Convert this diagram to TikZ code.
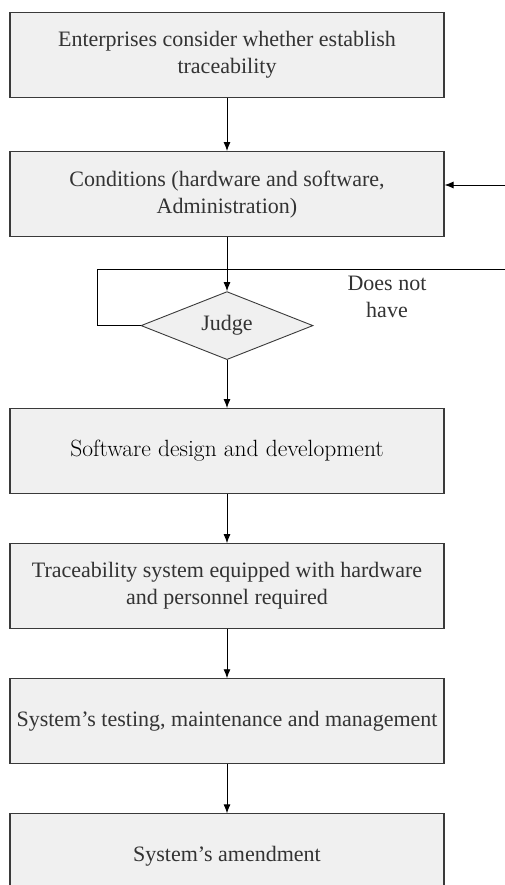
\documentclass[tikz,border=0pt]{standalone}
\usepackage{fontspec}
\setmainfont{Liberation Serif}
\usepackage{tikz}
\usetikzlibrary{positioning,shapes.geometric,arrows.meta}
\definecolor{boxfill}{HTML}{F0F0F0}
\definecolor{boxline}{HTML}{3A3A3A}
\definecolor{txt}{HTML}{333333}
\tikzset{%
  stepbox/.style={%
    draw=boxline,
    line width=1.1pt,
    fill=boxfill,
    text=txt,
    rectangle,
    minimum width=434pt,
    minimum height=85pt,
    align=center,
    font=\fontsize{22}{27}\selectfont
  },
  judgebox/.style={%
    stepbox,
    diamond,
    aspect=2.53,
    inner sep=0pt,
    minimum width=172pt,
    minimum height=68pt,
    line width=0.9pt
  },
  flow/.style={%
    draw=black,
    line width=0.9pt,
    -{Latex[length=9pt,width=7pt]}
  }
}
\begin{document}
\begin{tikzpicture}[x=1pt,y=-1pt]
      \useasboundingbox (0,0) rectangle (504,885);
      \node[stepbox]                           (enter) at (227,55) {Enterprises consider whether establish\\traceability};
      \node[stepbox, below = 53pt of enter]    (cond)  {Conditions (hardware and software,\\Administration)};
      \node[judgebox, below = 54pt of cond]    (judge) {Judge};
      \node[stepbox, below = 48pt of judge, font=\fontfamily{lmr}\fontsize{23.5}{27}\selectfont, text=black] (soft) {Software design and development};
      \node[stepbox, below = 49pt of soft]     (equip) {Traceability system equipped with hardware\\and personnel required};
      \node[stepbox, below = 49pt of equip]    (test)  {System's testing, maintenance and management};
      \node[stepbox, below = 49pt of test]     (amend) {System's amendment};

      \coordinate (lt) at (97,269);
      \coordinate (rt) at (510,269);
      \coordinate (rb) at (510,185);
      \node[text=txt, align=center, font=\fontsize{22}{27}\selectfont] (nothave) at (387,297) {Does not\\have};

      \path[flow]
        (enter) edge (cond)
        (cond)  edge (judge)
        (judge) edge (soft)
        (soft)  edge (equip)
        (equip) edge (test)
        (test)  edge (amend);
      \draw[line width=0.9pt] (judge.west) -| (lt) -- (rt);
      \draw[flow] (rb) -- (cond.east |- rb);
    \end{tikzpicture}
\end{document}
